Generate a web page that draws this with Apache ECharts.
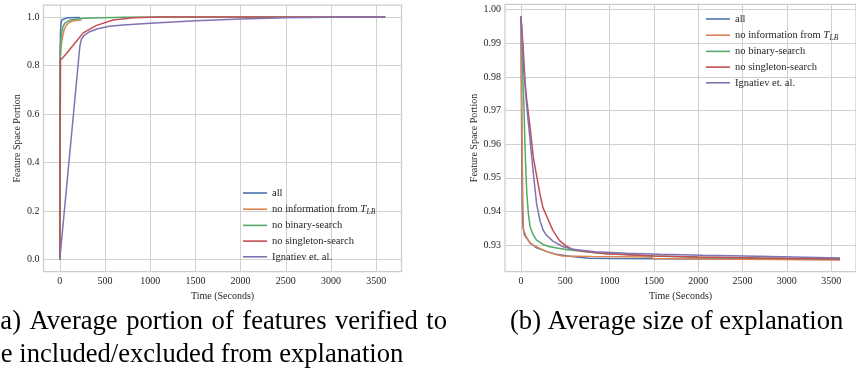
<!DOCTYPE html>
<html><head><meta charset="utf-8">
<script src="https://cdn.jsdelivr.net/npm/echarts@6/dist/echarts.min.js"></script>
<style>html,body{margin:0;padding:0;background:#fff}#c{width:856px;height:379px}</style>
</head><body><div id="c"></div>
<script>
// ---- labels ----
const seriesNames = ['all', 'no information from T_LB', 'no binary-search', 'no singleton-search', 'Ignatiev et. al.'];
const xTicks = [0, 500, 1000, 1500, 2000, 2500, 3000, 3500];
const leftYTicks = [0, 0.2, 0.4, 0.6, 0.8, 1.0];
const rightYTicks = [0.93, 0.94, 0.95, 0.96, 0.97, 0.98, 0.99, 1.00];
const xTitle = 'Time (Seconds)';
const yTitle = 'Feature Space Portion';
const captionA1 = '(a) Average portion of features verified to';
const captionA2 = 'be included/excluded from explanation';
const captionB = '(b) Average size of explanation';

// ---- left panel: portion of features verified ----
const leftAllT = [0, 4, 8, 14, 22, 40, 80, 222];
const leftAllV = [0, 0.85, 0.94, 0.975, 0.988, 0.994, 0.997, 0.998];
const leftNoInfoT = [0, 6, 15, 30, 50, 74, 110, 148, 240];
const leftNoInfoV = [0, 0.82, 0.88, 0.917, 0.95, 0.967, 0.979, 0.985, 0.988];
const leftNoBinT = [0, 4, 10, 19, 35, 55, 111, 259, 700, 1100, 3600];
const leftNoBinV = [0, 0.82, 0.9, 0.933, 0.96, 0.974, 0.988, 0.995, 0.999, 1.0, 1.0];
const leftNoSingT = [0, 8, 40, 74, 148, 259, 407, 591, 813, 1100, 3600];
const leftNoSingV = [0, 0.823, 0.836, 0.85, 0.884, 0.935, 0.966, 0.988, 0.997, 1.0, 1.0];
const leftIgnT = [0, 222, 240, 270, 330, 420, 550, 700, 1000, 1500, 2000, 2500, 3000, 3600];
const leftIgnV = [0, 0.88, 0.91, 0.925, 0.94, 0.952, 0.962, 0.968, 0.975, 0.985, 0.992, 0.997, 0.999, 1.0];

// ---- right panel: average size of explanation ----
const rightAllT = [0, 5, 10, 15, 22, 40, 66, 110, 176, 300, 396, 550, 763, 1000, 2000, 3000, 3600];
const rightAllV = [0.998, 0.975, 0.955, 0.942, 0.9355, 0.933, 0.932, 0.9305, 0.9292, 0.928, 0.9273, 0.9267, 0.9261, 0.926, 0.9259, 0.9258, 0.9258];
const rightNoInfoT = [0, 8, 15, 22, 29, 60, 103, 213, 300, 396, 470, 800, 1441, 1500, 2500, 3600];
const rightNoInfoV = [0.998, 0.975, 0.955, 0.942, 0.9345, 0.9325, 0.9305, 0.929, 0.928, 0.9272, 0.9268, 0.9266, 0.9265, 0.926, 0.9258, 0.9256];
const rightNoBinT = [0, 15, 22, 35, 47, 66, 85, 103, 140, 176, 250, 323, 507, 837, 1500, 2000, 3000, 3600];
const rightNoBinV = [0.998, 0.99, 0.979, 0.97, 0.958, 0.9453, 0.939, 0.9354, 0.933, 0.9315, 0.9302, 0.9295, 0.9287, 0.9277, 0.9268, 0.9264, 0.926, 0.9259];
const rightNoSingT = [0, 22, 48, 66, 103, 140, 213, 250, 286, 360, 433, 507, 580, 700, 947, 1500, 2000, 2673, 3600];
const rightNoSingV = [0.998, 0.99, 0.978, 0.973, 0.965, 0.956, 0.9453, 0.941, 0.9389, 0.9344, 0.9314, 0.9298, 0.9288, 0.9282, 0.9274, 0.9268, 0.9265, 0.9262, 0.9259];
const rightIgnT = [0, 29, 66, 103, 140, 176, 213, 250, 286, 360, 470, 580, 837, 1200, 1571, 2049, 2673, 3600];
const rightIgnV = [0.998, 0.983, 0.971, 0.9612, 0.9513, 0.9424, 0.9374, 0.9345, 0.933, 0.9312, 0.9296, 0.9288, 0.928, 0.9276, 0.9273, 0.927, 0.9267, 0.9262];

const colors = ['#4C72B0', '#DD8452', '#55A868', '#C44E52', '#8172B3'];
const SERIF = '"Liberation Serif", "DejaVu Serif", serif';
const zip = (t, v) => t.map((x, i) => [x, v[i]]);

const leftData = [zip(leftAllT, leftAllV), zip(leftNoInfoT, leftNoInfoV), zip(leftNoBinT, leftNoBinV), zip(leftNoSingT, leftNoSingV), zip(leftIgnT, leftIgnV)];
const rightData = [zip(rightAllT, rightAllV), zip(rightNoInfoT, rightNoInfoV), zip(rightNoBinT, rightNoBinV), zip(rightNoSingT, rightNoSingV), zip(rightIgnT, rightIgnV)];

const gridLine = { show: true, lineStyle: { color: '#d0d0d0', width: 1 } };
const labelStyle = { color: '#262626', fontFamily: SERIF, fontSize: 10 };

function xAxis(gi) {
  return {
    type: 'value', gridIndex: gi, min: -180, max: 3780,
    axisLine: { show: false }, axisTick: { show: false, customValues: xTicks },
    axisLabel: Object.assign({ customValues: xTicks, margin: 5, formatter: v => String(v) }, labelStyle),
    splitLine: gridLine,
    name: xTitle, nameLocation: 'middle', nameGap: 17,
    nameTextStyle: { color: '#262626', fontFamily: SERIF, fontSize: 10 }
  };
}
function yAxis(gi, ticks, min, max, dec, gap) {
  return {
    type: 'value', gridIndex: gi, min: min, max: max,
    axisLine: { show: false }, axisTick: { show: false, customValues: ticks },
    axisLabel: Object.assign({ customValues: ticks, margin: 4, formatter: v => v.toFixed(dec) }, labelStyle),
    splitLine: gridLine,
    name: yTitle, nameLocation: 'middle', nameGap: gap,
    nameTextStyle: { color: '#262626', fontFamily: SERIF, fontSize: 10 }
  };
}

const series = [];
seriesNames.forEach((n, i) => {
  series.push({ name: n, type: 'line', xAxisIndex: 0, yAxisIndex: 0, data: leftData[i], showSymbol: false, symbol: 'none',
    lineStyle: { color: colors[i], width: 1.5 }, itemStyle: { color: colors[i] }, animation: false });
  series.push({ name: n, type: 'line', xAxisIndex: 1, yAxisIndex: 1, data: rightData[i], showSymbol: false, symbol: 'none',
    lineStyle: { color: colors[i], width: 1.5 }, itemStyle: { color: colors[i] }, animation: false });
});

const legendBase = {
  orient: 'vertical', data: seriesNames, itemWidth: 24, itemHeight: 10, itemGap: 3.7,
  icon: 'path://M0,4.2 L24,4.2 L24,5.8 L0,5.8 Z',
  selectedMode: false,
  formatter: n => n === 'no information from T_LB' ? 'no information from {i|T}{s|LB}' : n,
  textStyle: { color: '#262626', fontFamily: SERIF, fontSize: 10.5, lineHeight: 12,
    rich: { i: { fontFamily: SERIF, fontStyle: 'italic', fontSize: 11, lineHeight: 12 },
            s: { fontFamily: SERIF, fontStyle: 'italic', fontSize: 7.5, lineHeight: 12, padding: [5, 0, 0, 0] } } }
};

// captions: first line of (a) is justified between its left start and right edge
const capSize = 26.6;
const capFont = capSize + 'px ' + SERIF;
const measureCtx = document.createElement('canvas').getContext('2d');
measureCtx.font = capFont;
function justifiedWords(text, x0, x1, y) {
  const words = text.split(' ');
  const widths = words.map(w => measureCtx.measureText(w).width);
  const total = widths.reduce((a, b) => a + b, 0);
  const gap = (x1 - x0 - total) / (words.length - 1);
  let x = x0;
  return words.map((w, i) => {
    const el = { type: 'text', x: x, y: y, style: { text: w, font: capFont, fill: '#000', verticalAlign: 'middle' } };
    x += widths[i] + gap;
    return el;
  });
}

const option = {
  backgroundColor: '#ffffff',
  animation: false,
  color: colors,
  grid: [
    { left: 43.5, top: 5, right: 856 - 401.5, bottom: 379 - 271.7, show: true, borderColor: '#cccccc', borderWidth: 1.25, backgroundColor: 'transparent' },
    { left: 505, top: 4.3, right: -9.5, bottom: 379 - 271.7, show: true, borderColor: '#cccccc', borderWidth: 1.25, backgroundColor: 'transparent' }
  ],
  xAxis: [xAxis(0), xAxis(1)],
  yAxis: [yAxis(0, leftYTicks, -0.05, 1.05, 1, 21), yAxis(1, rightYTicks, 0.9221, 1.0016, 2, 26)],
  legend: [
    Object.assign({}, legendBase, { left: 238, top: 182 }),
    Object.assign({}, legendBase, { left: 701, top: 8 })
  ],
  series: series,
  graphic: justifiedWords(captionA1, -8.5, 447, 322).concat([
    { type: 'text', x: -12.5, y: 355, style: { text: captionA2, font: capFont, fill: '#000', verticalAlign: 'middle' } },
    { type: 'text', x: 510, y: 322, style: { text: captionB, font: capFont, fill: '#000', verticalAlign: 'middle' } }
  ])
};

const chart = echarts.init(document.getElementById('c'), null, { renderer: 'canvas' });
chart.setOption(option);
</script>
</body></html>
